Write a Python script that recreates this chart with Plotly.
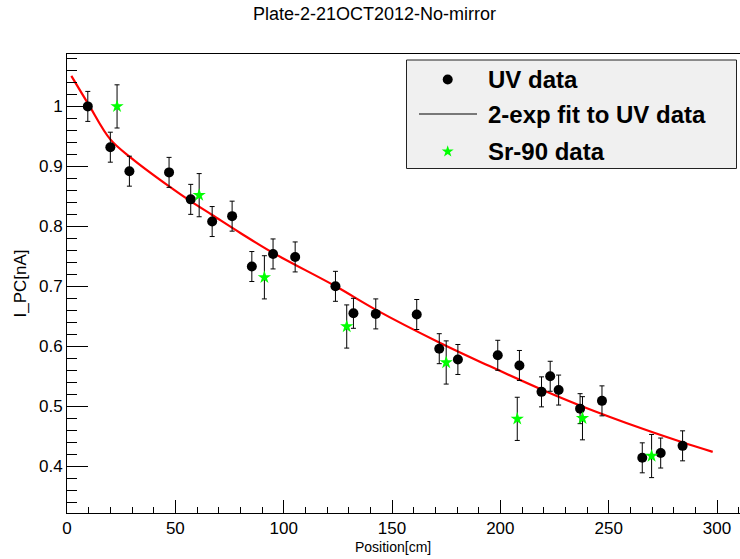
import plotly.graph_objects as go

# ---------------- data ----------------
uv_x = [9.6, 20.0, 28.8, 47.1, 57.1, 67.0, 76.2, 85.3, 95.1, 105.3, 123.9, 132.2,
        142.5, 161.4, 171.8, 180.4, 198.8, 208.8, 219.0, 223.0, 226.9, 236.8,
        246.9, 265.5, 274.0, 284.1]
uv_y = [1.000, 0.932, 0.892, 0.890, 0.845, 0.808, 0.817, 0.733, 0.754, 0.749,
        0.700, 0.655, 0.654, 0.653, 0.596, 0.578, 0.585, 0.568, 0.524, 0.550,
        0.527, 0.496, 0.509, 0.414, 0.422, 0.434]
uv_err = [0.025] * len(uv_x)

sr_x = [23.1, 61.0, 91.1, 129.1, 175.0, 207.8, 237.9, 269.8]
sr_y = [1.000, 0.852, 0.715, 0.633, 0.573, 0.479, 0.480, 0.417]
sr_err = [0.036] * len(sr_x)

fit_x = [2, 10, 20, 30, 47, 57, 67, 80, 95, 124, 142, 172, 195, 219, 237, 266, 284, 298]
fit_y = [1.051, 1.003, 0.945, 0.913, 0.867, 0.842, 0.819, 0.789, 0.756, 0.700, 0.662,
         0.606, 0.567, 0.528, 0.501, 0.462, 0.440, 0.424]

x_range = [0, 310.6]
y_range = [0.322, 1.0874]

title_text = "Plate-2-21OCT2012-No-mirror"
x_title = "Position[cm]"
y_title = "I_PC[nA]"
legend_labels = ["UV data", "2-exp fit to UV data", "Sr-90 data"]

FONT = "Liberation Sans, Arial, Helvetica, sans-serif"

fig = go.Figure()

fig.add_trace(go.Scatter(
    x=fit_x, y=fit_y, mode="lines",
    line=dict(color="#ff0000", width=2.2, shape="spline", smoothing=1.0),
    showlegend=False, hoverinfo="skip"))

fig.add_trace(go.Scatter(
    x=uv_x, y=uv_y, mode="markers",
    marker=dict(symbol="circle", size=10, color="black"),
    error_y=dict(type="data", array=uv_err, color="black", thickness=1, width=2.5),
    showlegend=False))

fig.add_trace(go.Scatter(
    x=sr_x, y=sr_y, mode="markers",
    marker=dict(symbol="star", size=10, color="#00ff00", line=dict(width=0)),
    error_y=dict(type="data", array=sr_err, color="black", thickness=1, width=2.5),
    showlegend=False))

# ---------------- legend (drawn manually, ROOT style) ----------------
W, H = 740, 559
L, R, T, B = 67, 0, 54, 46
px_x = [L, W - R]
px_y = [H - B, T]

leg_box = dict(x0=406.5, x1=736.5, y0=60, y1=168.5)
row_y = [79.5, 114, 151.5]
sym_x = 447.7
text_x = 486

fig.add_trace(go.Scatter(
    x=[sym_x], y=[row_y[0]], xaxis="x2", yaxis="y2", mode="markers",
    marker=dict(symbol="circle", size=10, color="black"),
    showlegend=False, hoverinfo="skip"))
fig.add_trace(go.Scatter(
    x=[sym_x], y=[row_y[2]], xaxis="x2", yaxis="y2", mode="markers",
    marker=dict(symbol="star", size=9, color="#00ff00", line=dict(width=0)),
    showlegend=False, hoverinfo="skip"))

shapes = [
    dict(type="rect", xref="x2", yref="y2", x0=leg_box["x0"], x1=leg_box["x1"],
         y0=leg_box["y0"], y1=leg_box["y1"], fillcolor="#f0f0f0",
         line=dict(color="#222222", width=1), layer="below"),
    dict(type="line", xref="x2", yref="y2", x0=419, x1=477, y0=row_y[1], y1=row_y[1],
         line=dict(color="black", width=1)),
]

annotations = []
for lab, yy in zip(legend_labels, row_y):
    annotations.append(dict(
        text="<b>%s</b>" % lab, xref="x2", yref="y2", x=text_x, y=yy,
        xanchor="left", yanchor="middle", showarrow=False,
        font=dict(family=FONT, size=24, color="black")))

annotations.append(dict(text=title_text, xref="paper", yref="paper",
                        x=(374 - L) / (W - L - R), y=(H - B - 14) / (H - B - T),
                        xanchor="center", yanchor="middle", showarrow=False,
                        font=dict(family=FONT, size=18, color="black")))
annotations.append(dict(text=x_title, xref="paper", yref="paper",
                        x=(393 - L) / (W - L - R), y=(H - B - 547) / (H - B - T),
                        xanchor="center", yanchor="middle", showarrow=False,
                        font=dict(family=FONT, size=14, color="black")))
annotations.append(dict(text=y_title, xref="paper", yref="paper",
                        x=(20 - L) / (W - L - R), y=0.5, textangle=-90,
                        xanchor="center", yanchor="middle", showarrow=False,
                        font=dict(family=FONT, size=17, color="black")))

fig.update_layout(
    width=W, height=H,
    margin=dict(l=L, r=R, t=T, b=B, pad=0),
    paper_bgcolor="white", plot_bgcolor="white",
    showlegend=False,
    font=dict(family=FONT, size=16, color="black"),
    shapes=shapes, annotations=annotations,
    xaxis=dict(range=x_range, showgrid=False, zeroline=False,
               showline=True, linecolor="black", linewidth=1, mirror=True,
               ticks="inside", ticklen=13, tickwidth=1, tickcolor="black",
               tick0=0, dtick=50,
               minor=dict(ticks="inside", ticklen=6.5, dtick=10, tickcolor="black", tickwidth=1),
               tickfont=dict(family=FONT, size=17)),
    yaxis=dict(range=y_range, showgrid=False, zeroline=False,
               showline=True, linecolor="black", linewidth=1, mirror=False,
               ticks="inside", ticklen=21, tickwidth=1, tickcolor="black",
               tick0=0, dtick=0.1,
               minor=dict(ticks="inside", ticklen=10, dtick=0.02, tickcolor="black", tickwidth=1),
               tickfont=dict(family=FONT, size=17)),
    xaxis2=dict(range=px_x, overlaying="x", visible=False, fixedrange=True),
    yaxis2=dict(range=px_y, overlaying="y", visible=False, fixedrange=True),
)

fig.write_html("out.html")
